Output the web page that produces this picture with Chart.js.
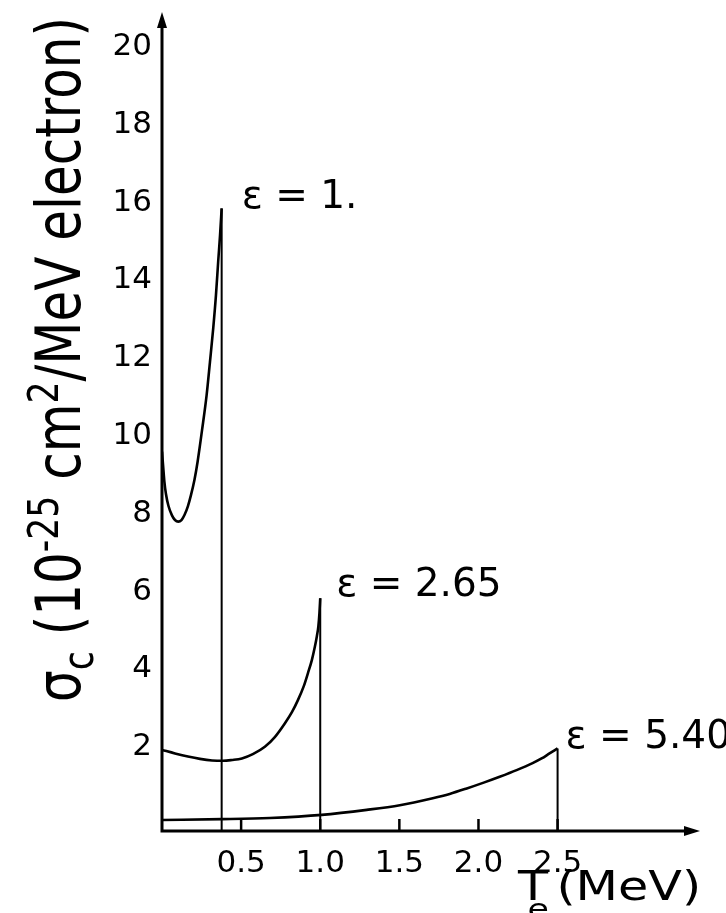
<!DOCTYPE html>
<html>
<head>
<meta charset="utf-8">
<title>Compton cross section</title>
<script src="https://cdn.jsdelivr.net/npm/chart.js@4.4.1/dist/chart.umd.min.js"></script>
<style>
  html, body { margin: 0; padding: 0; background: #fff; }
  #wrap { width: 726px; height: 913px; position: relative; }
</style>
</head>
<body>
<div id="wrap"><canvas id="comptonChart"></canvas></div>
<script>
// electron kinetic energy T (MeV) and cross section (10^-25 cm2/MeV electron)
const eps1T     = [0, 0.008, 0.015, 0.025, 0.041, 0.063, 0.082, 0.103, 0.123, 0.142, 0.164,
                   0.183, 0.205, 0.225, 0.253, 0.282, 0.303, 0.324, 0.341, 0.355, 0.367, 0.377];
const eps1Sigma = [9.60, 9.18, 8.83, 8.51, 8.20, 7.96, 7.84, 7.80, 7.84, 7.97, 8.20,
                   8.48, 8.87, 9.34, 10.15, 11.05, 11.90, 12.78, 13.62, 14.48, 15.17, 15.85];

const eps2T     = [0, 0.082, 0.164, 0.240, 0.316, 0.385, 0.442, 0.505, 0.574, 0.650, 0.713,
                   0.776, 0.821, 0.859, 0.896, 0.922, 0.947, 0.966, 0.979, 0.988, 0.995, 1.0];
const eps2Sigma = [1.93, 1.84, 1.76, 1.70, 1.66, 1.65, 1.67, 1.71, 1.82, 2.01, 2.26,
                   2.61, 2.90, 3.21, 3.57, 3.90, 4.24, 4.58, 4.86, 5.10, 5.45, 5.83];

const eps3T     = [0, 0.379, 0.682, 1.010, 1.294, 1.503, 1.711, 1.818, 1.926, 2.033, 2.134,
                   2.241, 2.342, 2.399, 2.449, 2.50];
const eps3Sigma = [0.13, 0.15, 0.18, 0.26, 0.39, 0.51, 0.69, 0.80, 0.94, 1.09, 1.24,
                   1.41, 1.59, 1.71, 1.84, 1.97];

// maximum electron energy (Compton edge) for each curve
const edgeT     = [0.377, 1.0, 2.50];
const edgeSigma = [15.85, 5.83, 1.97];
const curveLabels = ['ε = 1.', 'ε = 2.65', 'ε = 5.40'];

const xTickValues = [0.5, 1.0, 1.5, 2.0, 2.5];
const yTickValues = [2, 4, 6, 8, 10, 12, 14, 16, 18, 20];

const X_MIN = 0, X_MAX = 3.4;
const Y_MIN = -0.154, Y_MAX = 20.9;

var toPoints = function(xs, ys) {
	return xs.map(function(x, i) { return { x: x, y: ys[i] }; });
};

var curveStyle = {
	borderColor: '#000',
	borderWidth: 2.6,
	pointRadius: 0,
	showLine: true,
	fill: false,
	cubicInterpolationMode: 'monotone'
};

var datasets = [
	Object.assign({ label: curveLabels[0], data: toPoints(eps1T, eps1Sigma) }, curveStyle),
	Object.assign({ label: curveLabels[1], data: toPoints(eps2T, eps2Sigma) }, curveStyle),
	Object.assign({ label: curveLabels[2], data: toPoints(eps3T, eps3Sigma) }, curveStyle)
];

// vertical drop lines at the edges
edgeT.forEach(function(t, i) {
	datasets.push({
		label: 'edge ' + i,
		data: [{ x: t, y: edgeSigma[i] }, { x: t, y: Y_MIN }],
		borderColor: '#000',
		borderWidth: 2,
		pointRadius: 0,
		showLine: true,
		fill: false,
		tension: 0
	});
});

// axes with arrows, tick marks, curve labels and axis titles
const decorPlugin = {
	id: 'decor',
	afterDraw: function(chart) {
		const ctx = chart.ctx;
		const xs = chart.scales.x, ys = chart.scales.y;
		const left = chart.chartArea.left, bottom = chart.chartArea.bottom;
		const top = chart.chartArea.top, right = chart.chartArea.right;

		ctx.save();
		ctx.strokeStyle = '#000';
		ctx.fillStyle = '#000';
		ctx.lineWidth = 3;
		ctx.lineCap = 'butt';

		// axis lines
		ctx.beginPath();
		ctx.moveTo(left, bottom);
		ctx.lineTo(left, top + 14);
		ctx.moveTo(left - 1.5, bottom);
		ctx.lineTo(right - 14, bottom);
		ctx.stroke();

		// arrow heads
		ctx.beginPath();
		ctx.moveTo(left, top);
		ctx.lineTo(left - 5, top + 16);
		ctx.lineTo(left + 5, top + 16);
		ctx.closePath();
		ctx.fill();
		ctx.beginPath();
		ctx.moveTo(right, bottom);
		ctx.lineTo(right - 16, bottom - 5);
		ctx.lineTo(right - 16, bottom + 5);
		ctx.closePath();
		ctx.fill();

		// x tick marks, pointing inward
		ctx.lineWidth = 2.5;
		xTickValues.forEach(function(v) {
			const px = xs.getPixelForValue(v);
			ctx.beginPath();
			ctx.moveTo(px, bottom);
			ctx.lineTo(px, bottom - 12);
			ctx.stroke();
		});

		// curve labels next to each edge
		const offX = [20, 16, 8];
		const offY = [0, -2, 0];
		ctx.font = '39px "DejaVu Sans"';
		ctx.textAlign = 'left';
		ctx.textBaseline = 'alphabetic';
		curveLabels.forEach(function(txt, i) {
			const px = xs.getPixelForValue(edgeT[i]);
			const py = ys.getPixelForValue(edgeSigma[i]);
			ctx.fillText(txt, px + offX[i], py + offY[i]);
		});

		// x title: T_e (MeV)
		ctx.save();
		ctx.translate(518, 900);
		ctx.scale(1.2, 1);
		ctx.font = '41px "DejaVu Sans"';
		ctx.fillText('T', 0, 0);
		ctx.font = '29px "DejaVu Sans"';
		ctx.fillText('e', 8, 19);
		ctx.font = '41px "DejaVu Sans"';
		ctx.fillText('(MeV)', 32, 0);
		ctx.restore();

		// y title, rotated, with sub/superscripts
		const F = 62, S = 43;
		const parts = [
			{ t: 'σ', size: F, dy: 0 },
			{ t: 'c', size: S, dy: 13 },
			{ t: ' (10', size: F, dy: 0 },
			{ t: '-25', size: S, dy: -22 },
			{ t: ' cm', size: F, dy: 0 },
			{ t: '2', size: S, dy: -22 },
			{ t: '/MeV electron)', size: F, dy: 0 }
		];
		let total = 0;
		parts.forEach(function(p) {
			ctx.font = p.size + 'px "DejaVu Sans"';
			p.w = ctx.measureText(p.t).width;
			total += p.w;
		});
		const sx = 685 / total;
		ctx.save();
		ctx.translate(80, 702);
		ctx.rotate(-Math.PI / 2);
		ctx.scale(sx, 1);
		let pos = 0;
		parts.forEach(function(p) {
			ctx.font = p.size + 'px "DejaVu Sans"';
			ctx.fillText(p.t, pos, p.dy);
			pos += p.w;
		});
		ctx.restore();

		ctx.restore();
	}
};

// keep the plot area fixed: no extra room for edge labels
var noScalePadding = function(scale) {
	scale.paddingTop = 0;
	scale.paddingBottom = 0;
	scale.paddingLeft = 0;
	scale.paddingRight = 0;
};

Chart.defaults.font.family = '"DejaVu Sans"';
Chart.defaults.color = '#000';

const ctx = document.getElementById('comptonChart').getContext('2d');
const comptonChart = new Chart(ctx, {
	type: 'scatter',
	data: { datasets: datasets },
	options: {
		responsive: true,
		maintainAspectRatio: false,
		animation: false,
		layout: { padding: { top: 12, right: 26, left: 0, bottom: 0 } },
		plugins: {
			legend: { display: false },
			tooltip: { enabled: false },
			title: { display: false }
		},
		scales: {
			x: {
				type: 'linear',
				min: X_MIN,
				max: X_MAX,
				grid: { display: false, drawTicks: false },
				border: { display: false },
				afterBuildTicks: function(scale) {
					scale.ticks = xTickValues.map(function(v) { return { value: v }; });
				},
				afterFit: function(scale) { scale.height = 82; noScalePadding(scale); },
				ticks: {
					padding: 14,
					font: { size: 31 },
					maxRotation: 0,
					callback: function(v) { return Number(v).toFixed(1); }
				}
			},
			y: {
				type: 'linear',
				min: Y_MIN,
				max: Y_MAX,
				grid: { display: false, drawTicks: false },
				border: { display: false },
				afterBuildTicks: function(scale) {
					scale.ticks = yTickValues.map(function(v) { return { value: v }; });
				},
				afterFit: function(scale) { scale.width = 162; noScalePadding(scale); },
				ticks: {
					padding: 10,
					font: { size: 31 },
					callback: function(v) { return String(v); }
				}
			}
		}
	},
	plugins: [decorPlugin]
});
</script>
</body>
</html>
